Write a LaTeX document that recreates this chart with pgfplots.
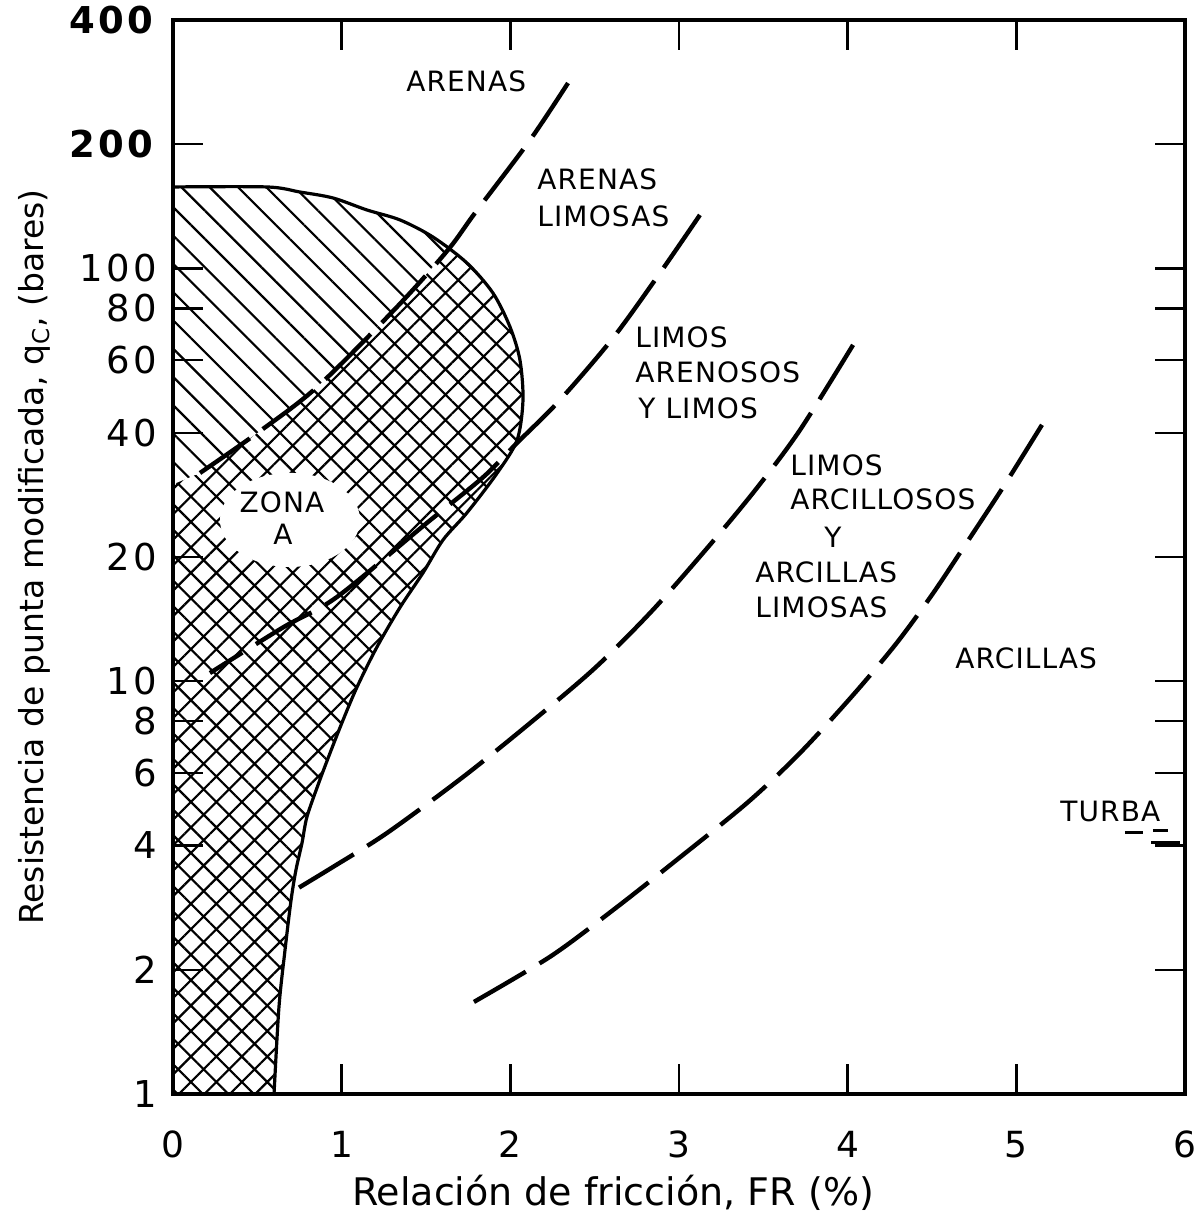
\documentclass[border=0pt]{standalone}
\usepackage{fontspec}
\setmainfont{DejaVu Sans}
\newfontfamily\tickf[LetterSpace=9]{DejaVu Sans}
\newfontfamily\lblf[LetterSpace=4]{DejaVu Sans}
\usepackage{pgfplots}
\pgfplotsset{compat=1.18}
\usetikzlibrary{patterns.meta}

\begin{document}
\begin{tikzpicture}[lbl/.style={font=\lblf\fontsize{14}{17}\selectfont, inner sep=0pt}]
\begin{axis}[
  name=ax, scale only axis, width=506pt, height=537pt,
  xmin=0, xmax=6, ymode=log, ymin=1, ymax=400,
  axis on top,
  axis line style={line width=2.2pt},
  xtick={0,1,2,3,4,5,6}, xticklabels={0,1,2,3,4,5,6},
  ytick={1,2,4,6,8,10,20,40,60,80,100,200,400},
  yticklabels={1,2,4,6,8,10,20,40,60,80,100,\textbf{200},\textbf{400}},
  yminorticks=false, xminorticks=false,
  tick align=inside, major tick length=15pt,
  tick style={line width=1.2pt, black},
  xtick pos=both, ytick pos=both, xticklabel pos=lower, yticklabel pos=left,
  xticklabel style={font=\fontsize{18}{21}\selectfont, anchor=base, inner sep=0pt, yshift=-31.5pt},
  yticklabel style={font=\tickf\fontsize{18.5}{21}\selectfont, anchor=east, inner sep=0pt, xshift=-8pt},
  xlabel={Relación de fricción, FR (\%)},
  xlabel style={font=\fontsize{19}{22}\selectfont, at={(axis description cs:0.16996,-0.10335)}, anchor=base west},
  ylabel={Resistencia de punta modificada, q\textsubscript{C}, (bares)},
  ylabel style={font=\fontsize{16.5}{19}\selectfont, at={(axis description cs:-0.12747,0.5)}, anchor=base},
]
% Zona A: crosshatch
\addplot[draw=none, smooth, pattern={Hatch[angle=45,distance=9pt,line width=1.1pt]}] coordinates {
(0,157.6) (0.557,157.6) (0.753,153.2) (0.949,148.2) (1.150,138.6) (1.346,131.1) (1.541,119.2)
(1.743,103.1) (1.897,87.2) (1.998,72.2) (2.057,60.0) (2.075,48.0) (2.040,38.4) (1.921,31.9)
(1.743,25.6) (1.601,22.0) (1.482,18.3) (1.346,15.1) (1.209,12.1) (1.091,9.68) (1.008,8.05)
(0.931,6.70) (0.860,5.61) (0.794,4.69) (0.765,4.06) (0.729,3.49) (0.700,2.95) (0.664,2.23) (0.628,1.62) (0.599,1)
} -- (axis cs:0,1) -- cycle;
% single hatch part
\addplot[draw=none, fill=white] coordinates {
(0,157.6) (0.557,157.6) (0.753,153.2) (0.949,148.2) (1.150,138.6) (1.346,131.1) (1.541,119.2)
(1.630,110.9) (1.328,80.7) (0.854,51.6) (0.498,39.9) (0.160,31.96) (0,30)
} -- cycle;
\addplot[draw=none, pattern={Lines[angle=-45,distance=10pt,line width=1.1pt]}] coordinates {
(0,157.6) (0.557,157.6) (0.753,153.2) (0.949,148.2) (1.150,138.6) (1.346,131.1) (1.541,119.2)
(1.630,110.9) (1.328,80.7) (0.854,51.6) (0.498,39.9) (0.160,31.96) (0,30)
} -- cycle;
% blank cloud for label
\fill[white] (rel axis cs:0.1156,0.5345) ellipse (35pt and 23.5pt);
% Zona A outline
\addplot[line width=1.6pt, smooth] coordinates {
(0,157.6) (0.557,157.6) (0.753,153.2) (0.949,148.2) (1.150,138.6) (1.346,131.1) (1.541,119.2)
(1.743,103.1) (1.897,87.2) (1.998,72.2) (2.057,60.0) (2.075,48.0) (2.040,38.4) (1.921,31.9)
(1.743,25.6) (1.601,22.0) (1.482,18.3) (1.346,15.1) (1.209,12.1) (1.091,9.68) (1.008,8.05)
(0.931,6.70) (0.860,5.61) (0.794,4.69) (0.765,4.06) (0.729,3.49) (0.700,2.95) (0.664,2.23) (0.628,1.62) (0.599,1)
};
% dashed boundaries
\addplot[line width=2.2pt, smooth, dash pattern=on 32pt off 8pt] coordinates {
(2.342,281.4) (2.117,204.8) (1.790,136.2) (1.630,110.9) (1.328,80.7) (0.854,51.6) (0.498,39.9) (0.160,31.96)
};
\addplot[line width=2.2pt, smooth, dash pattern=on 32pt off 8pt] coordinates {
(3.124,134.8) (2.887,97.5) (2.609,67.9) (2.294,48.0) (2.040,37.8) (1.838,31.2) (1.506,24.2) (0.972,16.0) (0.652,13.5) (0.219,10.47)
};
\addplot[line width=2.2pt, smooth, dash pattern=on 32pt off 8pt] coordinates {
(4.032,65.3) (3.717,40.6) (3.462,29.4) (3.196,21.7) (2.846,14.9) (2.502,10.77) (2.117,7.92) (1.719,5.86) (1.269,4.29) (0.949,3.55) (0.723,3.12)
};
\addplot[line width=2.2pt, smooth, dash pattern=on 30pt off 8pt] coordinates {
(5.152,41.8) (4.921,29.5) (4.684,21.0) (4.500,16.2) (4.292,12.4) (4.032,9.26) (3.717,6.70) (3.403,5.07) (2.964,3.63) (2.609,2.79) (2.235,2.15) (1.749,1.64)
};
% turba marks
\addplot[line width=1.5pt] coordinates {(5.644,4.31) (5.751,4.31)};
\addplot[line width=1.5pt] coordinates {(5.81,4.35) (5.90,4.35)};
\addplot[line width=1.5pt] coordinates {(5.80,4.06) (5.97,4.06)};
% labels
\node[lbl, anchor=base west] at (rel axis cs:0.2302,0.9330) {ARENAS};
\node[lbl, anchor=base west] at (rel axis cs:0.3597,0.8417) {ARENAS};
\node[lbl, anchor=base west] at (rel axis cs:0.3597,0.8073) {LIMOSAS};
\node[lbl, anchor=base west] at (rel axis cs:0.4565,0.6946) {LIMOS};
\node[lbl, anchor=base west] at (rel axis cs:0.4565,0.6620) {ARENOSOS};
\node[lbl, anchor=base west] at (rel axis cs:0.4595,0.6294) {Y LIMOS};
\node[lbl, anchor=base west] at (rel axis cs:0.6097,0.5763) {LIMOS};
\node[lbl, anchor=base west] at (rel axis cs:0.6097,0.5438) {ARCILLOSOS};
\node[lbl, anchor=base] at (rel axis cs:0.6522,0.5093) {Y};
\node[lbl, anchor=base west] at (rel axis cs:0.5751,0.4767) {ARCILLAS};
\node[lbl, anchor=base west] at (rel axis cs:0.5751,0.4441) {LIMOSAS};
\node[lbl, anchor=base west] at (rel axis cs:0.7727,0.3966) {ARCILLAS};
\node[lbl, anchor=base west] at (rel axis cs:0.8765,0.2533) {TURBA};
\node[lbl, anchor=base] at (rel axis cs:0.1077,0.5410) {ZONA};
\node[lbl, anchor=base] at (rel axis cs:0.1087,0.5112) {A};
\end{axis}
\pgfresetboundingbox
\path[use as bounding box] ([xshift=-86.5pt,yshift=-64pt]ax.south west) rectangle ([xshift=6.5pt,yshift=10pt]ax.north east);
\end{tikzpicture}
\end{document}
